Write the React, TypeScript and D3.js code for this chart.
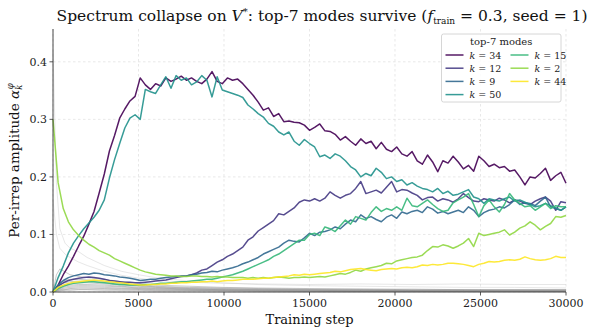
import React from "react";
import * as d3 from "d3";

// training steps for the highlighted modes (every 300 steps)
const STEPS = d3.range(0, 30001, 300);

const MODE_LABELS = ["34", "12", "9", "50", "15", "2", "44"];

const k34 = [0, 0.012, 0.03, 0.045, 0.062, 0.08, 0.097, 0.118, 0.14, 0.172, 0.205, 0.245, 0.272, 0.302, 0.318, 0.332, 0.34, 0.372, 0.36, 0.352, 0.362, 0.358, 0.372, 0.366, 0.37, 0.375, 0.368, 0.372, 0.366, 0.362, 0.37, 0.383, 0.366, 0.362, 0.372, 0.368, 0.37, 0.362, 0.352, 0.342, 0.33, 0.316, 0.32, 0.305, 0.31, 0.296, 0.297, 0.295, 0.294, 0.29, 0.281, 0.286, 0.292, 0.28, 0.279, 0.274, 0.264, 0.27, 0.262, 0.255, 0.266, 0.258, 0.262, 0.249, 0.26, 0.248, 0.244, 0.252, 0.24, 0.236, 0.244, 0.228, 0.222, 0.238, 0.226, 0.209, 0.228, 0.224, 0.236, 0.226, 0.214, 0.22, 0.21, 0.236, 0.228, 0.218, 0.222, 0.216, 0.218, 0.21, 0.212, 0.2, 0.186, 0.2, 0.198, 0.206, 0.215, 0.194, 0.202, 0.208, 0.189];
const k12 = [0, 0.01, 0.016, 0.02, 0.022, 0.024, 0.025, 0.026, 0.025, 0.024, 0.022, 0.02, 0.019, 0.018, 0.017, 0.017, 0.016, 0.016, 0.017, 0.018, 0.019, 0.02, 0.021, 0.023, 0.025, 0.027, 0.028, 0.03, 0.033, 0.038, 0.04, 0.046, 0.052, 0.056, 0.062, 0.066, 0.072, 0.078, 0.09, 0.096, 0.106, 0.112, 0.118, 0.124, 0.136, 0.134, 0.14, 0.146, 0.156, 0.16, 0.158, 0.162, 0.158, 0.163, 0.174, 0.168, 0.163, 0.168, 0.171, 0.18, 0.192, 0.171, 0.174, 0.177, 0.172, 0.182, 0.192, 0.174, 0.178, 0.177, 0.172, 0.168, 0.16, 0.164, 0.165, 0.158, 0.162, 0.16, 0.156, 0.162, 0.171, 0.164, 0.158, 0.157, 0.162, 0.16, 0.158, 0.163, 0.16, 0.155, 0.16, 0.158, 0.154, 0.152, 0.158, 0.162, 0.165, 0.158, 0.142, 0.157, 0.155];
const k9 = [0, 0.012, 0.02, 0.025, 0.028, 0.03, 0.032, 0.031, 0.033, 0.032, 0.03, 0.029, 0.028, 0.026, 0.025, 0.024, 0.022, 0.02, 0.021, 0.022, 0.022, 0.024, 0.025, 0.026, 0.027, 0.028, 0.028, 0.03, 0.031, 0.033, 0.034, 0.036, 0.035, 0.038, 0.04, 0.042, 0.045, 0.049, 0.052, 0.056, 0.06, 0.066, 0.07, 0.074, 0.078, 0.085, 0.09, 0.088, 0.087, 0.094, 0.102, 0.098, 0.104, 0.105, 0.108, 0.113, 0.11, 0.118, 0.125, 0.122, 0.134, 0.128, 0.131, 0.126, 0.122, 0.13, 0.134, 0.128, 0.139, 0.136, 0.14, 0.142, 0.138, 0.148, 0.144, 0.137, 0.14, 0.136, 0.139, 0.142, 0.138, 0.148, 0.142, 0.131, 0.138, 0.142, 0.144, 0.148, 0.146, 0.152, 0.16, 0.152, 0.155, 0.154, 0.15, 0.158, 0.165, 0.148, 0.145, 0.142, 0.148];
const k50 = [0, 0.025, 0.045, 0.068, 0.085, 0.098, 0.11, 0.12, 0.13, 0.142, 0.16, 0.198, 0.23, 0.258, 0.285, 0.302, 0.308, 0.3, 0.352, 0.348, 0.345, 0.36, 0.374, 0.354, 0.376, 0.368, 0.372, 0.36, 0.365, 0.376, 0.368, 0.339, 0.374, 0.351, 0.348, 0.345, 0.342, 0.338, 0.325, 0.318, 0.31, 0.304, 0.293, 0.288, 0.278, 0.273, 0.278, 0.262, 0.255, 0.265, 0.258, 0.252, 0.235, 0.238, 0.232, 0.24, 0.236, 0.228, 0.218, 0.212, 0.2, 0.206, 0.202, 0.215, 0.208, 0.197, 0.2, 0.192, 0.195, 0.186, 0.19, 0.184, 0.18, 0.178, 0.174, 0.18, 0.171, 0.175, 0.168, 0.17, 0.174, 0.178, 0.165, 0.162, 0.154, 0.162, 0.16, 0.158, 0.162, 0.165, 0.158, 0.16, 0.156, 0.152, 0.148, 0.15, 0.154, 0.15, 0.146, 0.142, 0.148];
const k15 = [0, 0.006, 0.01, 0.013, 0.015, 0.016, 0.017, 0.018, 0.018, 0.017, 0.016, 0.015, 0.014, 0.013, 0.013, 0.012, 0.012, 0.012, 0.013, 0.013, 0.014, 0.015, 0.015, 0.016, 0.017, 0.018, 0.018, 0.019, 0.02, 0.021, 0.022, 0.022, 0.024, 0.026, 0.028, 0.03, 0.033, 0.036, 0.04, 0.044, 0.048, 0.052, 0.056, 0.062, 0.066, 0.072, 0.078, 0.084, 0.09, 0.09, 0.1, 0.102, 0.098, 0.113, 0.11, 0.105, 0.115, 0.125, 0.118, 0.131, 0.128, 0.125, 0.138, 0.148, 0.14, 0.145, 0.142, 0.148, 0.142, 0.163, 0.15, 0.148, 0.154, 0.16, 0.152, 0.145, 0.14, 0.142, 0.155, 0.16, 0.165, 0.171, 0.152, 0.131, 0.15, 0.16, 0.148, 0.139, 0.152, 0.171, 0.16, 0.154, 0.148, 0.15, 0.142, 0.148, 0.154, 0.145, 0.15, 0.148, 0.148];
const k2 = [0.3, 0.19, 0.145, 0.122, 0.108, 0.098, 0.09, 0.083, 0.078, 0.072, 0.068, 0.064, 0.058, 0.054, 0.05, 0.046, 0.042, 0.038, 0.035, 0.033, 0.031, 0.03, 0.029, 0.028, 0.028, 0.027, 0.027, 0.028, 0.028, 0.027, 0.027, 0.026, 0.027, 0.026, 0.026, 0.025, 0.025, 0.025, 0.024, 0.025, 0.024, 0.025, 0.024, 0.025, 0.026, 0.025, 0.024, 0.025, 0.025, 0.026, 0.025, 0.026, 0.027, 0.026, 0.028, 0.03, 0.032, 0.031, 0.034, 0.038, 0.036, 0.04, 0.042, 0.044, 0.046, 0.05, 0.049, 0.054, 0.056, 0.058, 0.06, 0.061, 0.064, 0.072, 0.079, 0.078, 0.082, 0.08, 0.076, 0.08, 0.085, 0.093, 0.079, 0.102, 0.098, 0.1, 0.102, 0.104, 0.108, 0.099, 0.104, 0.111, 0.115, 0.122, 0.116, 0.108, 0.114, 0.119, 0.131, 0.13, 0.133];
const k44 = [0, 0.008, 0.012, 0.015, 0.017, 0.018, 0.019, 0.02, 0.021, 0.02, 0.019, 0.018, 0.017, 0.016, 0.015, 0.014, 0.013, 0.012, 0.012, 0.013, 0.013, 0.014, 0.014, 0.015, 0.015, 0.016, 0.016, 0.017, 0.017, 0.018, 0.018, 0.019, 0.018, 0.019, 0.02, 0.02, 0.021, 0.022, 0.022, 0.022, 0.023, 0.024, 0.024, 0.025, 0.026, 0.027, 0.028, 0.03, 0.029, 0.031, 0.03, 0.031, 0.032, 0.033, 0.034, 0.036, 0.035, 0.037, 0.039, 0.04, 0.041, 0.039, 0.038, 0.037, 0.039, 0.04, 0.041, 0.04, 0.042, 0.043, 0.042, 0.044, 0.047, 0.046, 0.048, 0.047, 0.048, 0.05, 0.05, 0.049, 0.048, 0.046, 0.044, 0.048, 0.05, 0.053, 0.052, 0.053, 0.055, 0.056, 0.055, 0.057, 0.061, 0.058, 0.056, 0.055, 0.056, 0.058, 0.062, 0.06, 0.06];

const MODES = [k34, k12, k9, k50, k15, k2, k44];

// the other irreps, drawn in gray (coarser sampling)
const GRAY_STEPS = [0, 200, 400, 700, 1000, 1500, 2000, 3000, 4000, 5000, 6000, 8000, 10000, 12000, 15000, 18000, 21000, 24000, 27000, 30000];
const g1 = [0.42, 0.19, 0.11, 0.085, 0.076, 0.07, 0.06, 0.046, 0.036, 0.03, 0.025, 0.019, 0.016, 0.013, 0.011, 0.01, 0.009, 0.008, 0.008, 0.007];
const g2 = [0.16, 0.1, 0.076, 0.066, 0.06, 0.052, 0.046, 0.036, 0.029, 0.024, 0.02, 0.017, 0.015, 0.014, 0.013, 0.014, 0.013, 0.014, 0.013, 0.013];
const g3 = [0, 0.03, 0.04, 0.035, 0.03, 0.027, 0.025, 0.022, 0.018, 0.015, 0.012, 0.01, 0.008, 0.007, 0.006, 0.005, 0.005, 0.004, 0.004, 0.004];
const g4 = [0, 0.01, 0.016, 0.02, 0.022, 0.022, 0.021, 0.018, 0.015, 0.012, 0.01, 0.008, 0.007, 0.006, 0.005, 0.005, 0.004, 0.004, 0.004, 0.004];
const g5 = [0, 0.008, 0.013, 0.016, 0.018, 0.019, 0.018, 0.016, 0.013, 0.011, 0.009, 0.007, 0.006, 0.005, 0.004, 0.004, 0.003, 0.003, 0.003, 0.003];
const g6 = [0, 0.006, 0.01, 0.013, 0.015, 0.016, 0.016, 0.014, 0.012, 0.01, 0.008, 0.006, 0.005, 0.004, 0.004, 0.003, 0.003, 0.003, 0.002, 0.002];
const g7 = [0, 0.005, 0.008, 0.011, 0.012, 0.013, 0.013, 0.012, 0.01, 0.008, 0.007, 0.005, 0.004, 0.004, 0.003, 0.003, 0.002, 0.002, 0.002, 0.002];
const g8 = [0, 0.004, 0.006, 0.009, 0.01, 0.011, 0.011, 0.01, 0.009, 0.007, 0.006, 0.005, 0.004, 0.003, 0.003, 0.002, 0.002, 0.002, 0.002, 0.002];
const g9 = [0, 0.003, 0.005, 0.007, 0.008, 0.009, 0.009, 0.008, 0.007, 0.006, 0.005, 0.004, 0.003, 0.003, 0.002, 0.002, 0.002, 0.001, 0.001, 0.001];
const g10 = [0, 0.002, 0.004, 0.005, 0.006, 0.007, 0.007, 0.006, 0.006, 0.005, 0.004, 0.003, 0.003, 0.002, 0.002, 0.001, 0.001, 0.001, 0.001, 0.001];
const g11 = [0, 0.002, 0.003, 0.004, 0.005, 0.005, 0.005, 0.005, 0.004, 0.004, 0.003, 0.003, 0.002, 0.002, 0.001, 0.001, 0.001, 0.001, 0.001, 0.001];
const g12 = [0, 0.001, 0.002, 0.003, 0.003, 0.004, 0.004, 0.003, 0.003, 0.003, 0.002, 0.002, 0.002, 0.001, 0.001, 0.001, 0.001, 0.001, 0.001, 0.001];
const GRAY = [g1, g2, g3, g4, g5, g6, g7, g8, g9, g10, g11, g12];

const X_TICKS = [0, 5000, 10000, 15000, 20000, 25000, 30000];
const Y_TICKS = [0, 0.1, 0.2, 0.3, 0.4];

const W = 590;
const H = 333;
const M = { left: 53, right: 24, top: 29, bottom: 41 };
const SERIF = "'DejaVu Serif', serif";

export default function App() {
  const x = d3.scaleLinear().domain([0, 30000]).range([M.left, W - M.right]);
  const y = d3.scaleLinear().domain([0, 0.457]).range([H - M.bottom, M.top]);
  const colour = (i: number) => d3.interpolateViridis(i / 6);

  const line = (steps: number[]) =>
    d3
      .line<number>()
      .x((_, i) => x(steps[i]))
      .y((d) => y(d));

  const x0 = x(0);
  const x1 = x(30000);
  const yb = y(0);
  const yt = M.top;

  // legend box
  const lg = { x: 441.5, y: 34, w: 119.5, h: 68 };

  return (
    <svg width={W} height={H} style={{ position: "absolute", left: 0, top: 0, background: "#fff" }} fontFamily={SERIF}>
      {/* grid */}
      <g stroke="#d9d9d9" strokeWidth={0.6} strokeDasharray="2.5,2.5">
        {X_TICKS.map((t) => (
          <line key={`gx${t}`} x1={x(t)} x2={x(t)} y1={yt} y2={yb} />
        ))}
        {Y_TICKS.map((t) => (
          <line key={`gy${t}`} x1={x0} x2={x1} y1={y(t)} y2={y(t)} />
        ))}
      </g>

      {/* other irreps */}
      <g fill="none">
        {GRAY.map((g, i) => (
          <path
            key={`g${i}`}
            d={line(GRAY_STEPS)(g) || ""}
            stroke={i < 2 ? "#cfcfcf" : "#8c8c8c"}
            strokeOpacity={i < 2 ? 0.5 : 0.45}
            strokeWidth={1}
          />
        ))}
      </g>

      {/* top-7 modes */}
      <g fill="none">
        {MODES.map((m, i) => (
          <path
            key={`m${i}`}
            d={line(STEPS)(m) || ""}
            stroke={colour(i)}
            strokeOpacity={0.9}
            strokeWidth={1.5}
            strokeLinejoin="round"
          />
        ))}
      </g>

      {/* spines */}
      <g stroke="#333" strokeWidth={0.9}>
        <line x1={x0} x2={x0} y1={yt} y2={yb} />
        <line x1={x0} x2={x1} y1={yb} y2={yb} />
      </g>

      {/* x ticks */}
      <g fontSize={11} fill="#222" textAnchor="middle">
        {X_TICKS.map((t) => (
          <g key={`xt${t}`}>
            <line x1={x(t)} x2={x(t)} y1={yb} y2={yb + 3.5} stroke="#333" strokeWidth={0.8} />
            <text x={x(t)} y={yb + 15}>{t}</text>
          </g>
        ))}
      </g>
      {/* y ticks */}
      <g fontSize={11} fill="#222" textAnchor="end">
        {Y_TICKS.map((t) => (
          <g key={`yt${t}`}>
            <line x1={x0 - 3.5} x2={x0} y1={y(t)} y2={y(t)} stroke="#333" strokeWidth={0.8} />
            <text x={x0 - 6} y={y(t) + 4}>{t.toFixed(1)}</text>
          </g>
        ))}
      </g>

      {/* axis labels */}
      <text x={(x0 + x1) / 2} y={324} fontSize={13} textAnchor="middle" fill="#111">
        Training step
      </text>
      <text
        transform={`translate(19,${(yt + yb) / 2}) rotate(-90)`}
        fontSize={13.5}
        textAnchor="middle"
        fill="#111"
      >
        Per-irrep amplitude{"  "}
        <tspan fontStyle="italic">α</tspan>
        <tspan fontStyle="italic" fontSize={8.5} dy={3}>k</tspan>
        <tspan fontStyle="italic" fontSize={8.5} dy={-9} dx={-4.5}>φ</tspan>
      </text>

      {/* title */}
      <text x={322} y={21} fontSize={15.5} textAnchor="middle" fill="#111">
        Spectrum collapse on <tspan fontStyle="italic">V</tspan>
        <tspan fontSize={10} dy={-6}>*</tspan>
        <tspan dy={6}>: top-7 modes survive{"  "}(</tspan>
        <tspan fontStyle="italic">f</tspan>
        <tspan fontSize={9} dy={3}>train</tspan>
        <tspan dy={-3}> = 0.3, seed = 1)</tspan>
      </text>

      {/* legend */}
      <g>
        <rect x={lg.x} y={lg.y} width={lg.w} height={lg.h} rx={2} fill="#fff" fillOpacity={0.85} stroke="#ccc" strokeWidth={0.8} />
        <text x={lg.x + lg.w / 2} y={lg.y + 11} fontSize={10} textAnchor="middle" fill="#222">
          top-7 modes
        </text>
        {MODE_LABELS.map((lab, i) => {
          const col = i < 4 ? 0 : 1;
          const row = i < 4 ? i : i - 4;
          const lx = lg.x + 4 + col * 65;
          const ly = lg.y + 21 + row * 13.2;
          return (
            <g key={`lg${lab}`}>
              <line x1={lx} x2={lx + 18} y1={ly} y2={ly} stroke={colour(i)} strokeOpacity={0.9} strokeWidth={1.5} />
              <text x={lx + 24} y={ly + 3.5} fontSize={9.5} fill="#222">
                <tspan fontStyle="italic">k</tspan> = {lab}
              </text>
            </g>
          );
        })}
      </g>
    </svg>
  );
}
